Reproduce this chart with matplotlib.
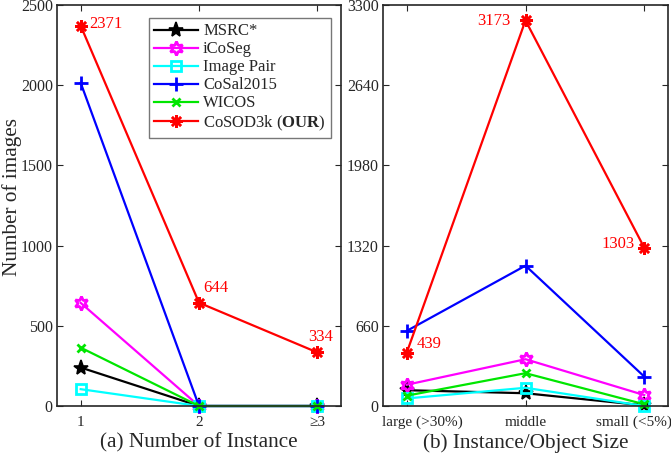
import numpy as np
import matplotlib
matplotlib.use("Agg")
import matplotlib.pyplot as plt
import matplotlib.transforms as mtransforms

plt.rcParams["font.family"] = ["Liberation Serif", "DejaVu Serif"]
plt.rcParams["mathtext.fontset"] = "custom"
plt.rcParams["mathtext.rm"] = "Liberation Serif"
plt.rcParams["mathtext.bf"] = "Liberation Serif:bold"

# (a) number of instances
inst_labels = ["1", "2", "\u22653"]
inst_msrc = [240, 0, 0]
inst_icoseg = [643, 0, 0]
inst_pair = [105, 0, 0]
inst_cosal = [2015, 0, 0]
inst_wicos = [364, 0, 0]
inst_cosod = [2371, 644, 334]

# (b) instance / object size
size_labels = ["large (>30%)", "middle", "small (<5%)"]
size_msrc = [130, 105, 5]
size_icoseg = [175, 385, 90]
size_pair = [62, 150, 0]
size_cosal = [618, 1155, 242]
size_wicos = [85, 270, 14]
size_cosod = [439, 3173, 1303]

names = ["MSRC*", "iCoSeg", "Image Pair", "CoSal2015", "WICOS",
         r"CoSOD3k ($\mathbf{OUR}$)"]

hexagram = (6, 1, 0)
styles = [
    dict(color="black", marker="*", ms=11, mfc="black", mew=1.2),
    dict(color="#ff00ff", marker=hexagram, ms=10, mfc="none", mew=2),
    dict(color="cyan", marker="s", ms=7, mfc="none", mew=2),
    dict(color="blue", marker="+", ms=10, mew=2),
    dict(color="#00e600", marker="x", ms=6, mew=2),
    dict(color="red", marker=(8, 2, 0), ms=9, mew=1.8),
]

GRAY = "#262626"
fig = plt.figure(figsize=(6.71, 4.55), dpi=100)
ax1 = fig.add_axes([57 / 671, 49 / 455, 284 / 671, 401 / 455])
ax2 = fig.add_axes([383 / 671, 49 / 455, 285 / 671, 401 / 455])

x = np.arange(1, 4)


def style_axes(ax, ticks, labels, ymax, yticks):
    ax.set_xlim(0.8, 3.2)
    ax.set_ylim(0, ymax)
    ax.set_xticks(ticks)
    ax.set_xticklabels(labels)
    ax.set_yticks(yticks)
    ax.tick_params(direction="in", top=True, right=True, length=4,
                   width=0.8, colors=GRAY, labelsize=11.5)
    ax.tick_params(axis="x", pad=7, labelsize=11)
    ax.tick_params(axis="y", pad=3)
    for s in ax.spines.values():
        s.set_color(GRAY)
        s.set_linewidth(1.2)


series_a = [inst_msrc, inst_icoseg, inst_pair, inst_cosal, inst_wicos, inst_cosod]
for name, vals, st in zip(names, series_a, styles):
    ax1.plot(x, vals, lw=1.6, label=name, clip_on=False, **st)

style_axes(ax1, x, inst_labels, 2500, [0, 500, 1000, 1500, 2000, 2500])
ax1.set_xlabel("(a) Number of Instance", fontsize=15.3, color=GRAY, labelpad=3)
ax1.set_ylabel("Number of images", fontsize=15.3, color=GRAY)
ax1.yaxis.set_label_coords(-0.125, 0.52)

red = "red"
ax1.annotate(str(inst_cosod[0]), (x[0], inst_cosod[0]), xytext=(6, -1.5),
             textcoords="offset points", color=red, fontsize=12)
ax1.annotate(str(inst_cosod[1]), (x[1], inst_cosod[1]), xytext=(3, 8),
             textcoords="offset points", color=red, fontsize=12)
ax1.annotate(str(inst_cosod[2]), (x[2], inst_cosod[2]), xytext=(-6.5, 8),
             textcoords="offset points", color=red, fontsize=12)

leg = ax1.legend(loc="upper right", bbox_to_anchor=(0.975, 0.975), fontsize=12,
                 frameon=True, fancybox=False, handlelength=2.65,
                 handletextpad=0.3, labelspacing=0.12, borderpad=0.3,
                 borderaxespad=0.2)
leg.get_frame().set_edgecolor("#555555")
leg.get_frame().set_linewidth(1.0)
for t in leg.get_texts():
    t.set_color(GRAY)

series_b = [size_msrc, size_icoseg, size_pair, size_cosal, size_wicos, size_cosod]
for name, vals, st in zip(names, series_b, styles):
    ax2.plot(x, vals, lw=1.6, clip_on=False, **st)

style_axes(ax2, x, size_labels, 3300, [0, 660, 1320, 1980, 2640, 3300])
ax2.set_xlabel("(b) Instance/Object Size", fontsize=15.3, color=GRAY, labelpad=3)

# keep the outer tick labels inside the axes box, as in the original
xl = ax2.get_xticklabels()
xl[0].set_transform(xl[0].get_transform()
                    + mtransforms.ScaledTranslation(0.16, 0, fig.dpi_scale_trans))
xl[2].set_transform(xl[2].get_transform()
                    + mtransforms.ScaledTranslation(-0.10, 0, fig.dpi_scale_trans))

ax2.annotate(str(size_cosod[0]), (x[0], size_cosod[0]), xytext=(7, 3.5),
             textcoords="offset points", color=red, fontsize=12)
ax2.annotate(str(size_cosod[1]), (x[1], size_cosod[1]), xytext=(-11, -3.5),
             textcoords="offset points", color=red, fontsize=12, ha="right")
ax2.annotate(str(size_cosod[2]), (x[2], size_cosod[2]), xytext=(-7, 0),
             textcoords="offset points", color=red, fontsize=12, ha="right")

fig.savefig("out.png", dpi=100)
